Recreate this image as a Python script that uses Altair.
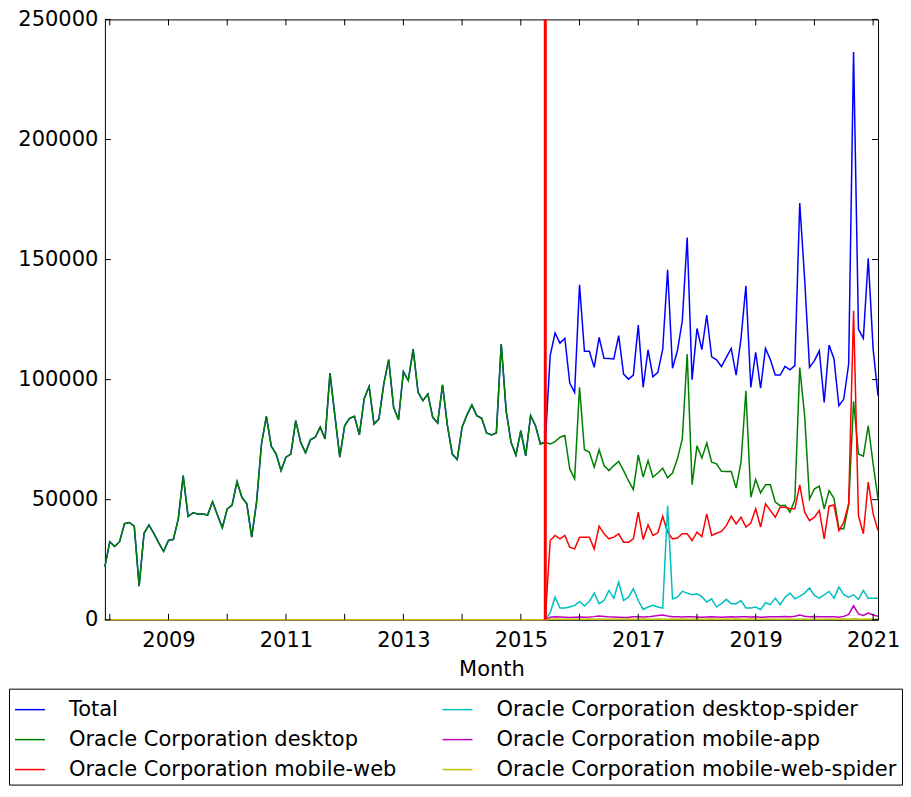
import altair as alt
import pandas as pd

start_month = "2007-12"
end_month = "2021-02"
split_month = "2015-06"

# Monthly values
desktop_before = [
    22000, 32500, 30500, 32500, 40000, 40500, 39000, 14000, 36000, 39500,
    36000, 32000, 28500, 33000, 33500, 42000, 60000, 43000, 44500, 44000,
    44000, 43600, 49200, 43600, 38300, 46200, 47800, 57500, 51000, 48300,
    34400, 49000, 73200, 84700, 72300, 69000, 62100, 67700, 69000, 82900,
    73900, 69500, 74900, 76000, 80200, 75300, 102700, 85000, 67700, 80800,
    83900, 84700, 77000, 92200, 97200, 81500, 83600, 98200, 108300, 88500,
    83300, 103300, 99600, 112700, 94700, 91200, 94000, 84300, 81900, 97800,
    80800, 69000, 66700, 80200, 85300, 89400, 85000, 83900, 77800, 77000,
    77800, 114800, 87100, 73900, 68600, 78700, 68300, 85000, 80800, 73200,
]
total_after = [
    74000, 110000, 119400, 115200, 117200, 98600, 94700, 139500, 111800, 111800,
    105100, 117600, 108900, 108800, 108600, 118300, 102300, 100200, 101900, 122700,
    96800, 112400, 101200, 103000, 112700, 145700, 104700, 112000, 124500, 159200,
    100000, 121300, 112500, 126900, 109500, 108200, 105400, 109300, 113000, 101900,
    117200, 139100, 96800, 111400, 96400, 113000, 108300, 101900, 101900, 105500,
    104100, 105800, 173500, 142000, 105100, 107900, 112000, 90500, 114400, 108600,
    89100, 91900, 106500, 236400, 121000, 117200, 150500, 112700, 93300,
]
desktop_after = [
    73900, 73200, 74200, 76000, 76700, 62800, 58700, 96800, 70800, 69800,
    63500, 70800, 64200, 62100, 64200, 65900, 62100, 57900, 54200, 68600,
    59400, 66300, 59400, 61100, 63100, 59100, 61100, 67000, 75300, 110600,
    56200, 72500, 67300, 73600, 65600, 64900, 61800, 61700, 61700, 54800,
    65600, 95300, 51000, 58400, 52800, 56200, 56200, 49000, 47500, 47700,
    44800, 50000, 105000, 85000, 50300, 54500, 55600, 46200, 53800, 50600,
    37900, 37900, 47800, 91000, 69000, 68100, 80800, 64900, 50300,
]
mobile_web_after = [
    0, 33000, 35100, 33700, 35100, 30200, 29500, 34400, 34400, 34400,
    29500, 39000, 35800, 33700, 34400, 35800, 32300, 32300, 33700, 44800,
    33400, 39500, 35100, 36200, 43100, 36500, 33700, 34000, 35800, 35800,
    33000, 36500, 34600, 44100, 35100, 36000, 36800, 39200, 43100, 39900,
    42700, 38600, 40300, 46200, 38600, 48300, 45500, 42700, 46900, 46900,
    46200, 46200, 56200, 44800, 41300, 42700, 45500, 33700, 47300, 47800,
    37100, 40600, 48300, 128700, 43400, 35800, 57300, 44100, 37100,
]
desktop_spider_after = [
    0, 3000, 9400, 4900, 4900, 5300, 6000, 7600, 5700, 7600,
    11100, 6700, 8000, 12200, 9000, 15700, 8000, 9400, 12900, 8000,
    4300, 5300, 6000, 5300, 4900, 47500, 8700, 9400, 11800, 11100,
    10400, 10800, 9600, 7400, 8700, 5300, 6700, 8500, 6700, 6700,
    8000, 4900, 4900, 5300, 4300, 7100, 6300, 9000, 6300, 9400,
    11100, 8700, 9700, 11100, 13200, 10100, 9000, 10400, 11800, 9000,
    13600, 10400, 9400, 10400, 8500, 12200, 9000, 9000, 9000,
]
mobile_app_after = [
    0, 1000, 1200, 1100, 1000, 900, 1000, 1100, 1000, 1100,
    1300, 1600, 1400, 1200, 1100, 1000, 900, 1000, 1200, 1300,
    1100, 1200, 1500, 1800, 2000, 1600, 1300, 1200, 1100, 1300,
    1200, 1100, 1000, 1100, 1200, 1100, 1000, 1100, 1200, 1100,
    1300, 1200, 1100, 1200, 1000, 1100, 1200, 1300, 1200, 1400,
    1300, 1500, 2000, 1500, 1300, 1400, 1300, 1200, 1300, 1200,
    1000, 1400, 2200, 5800, 2400, 1800, 2800, 2000, 1500,
]
mobile_web_spider_after = [
    0, 200, 300, 200, 250, 200, 300, 250, 200, 300,
    250, 300, 200, 250, 300, 200, 250, 300, 250, 200,
    300, 250, 200, 300, 250, 200, 300, 250, 300, 200,
    250, 300, 200, 250, 300, 250, 200, 300, 250, 300,
    200, 250, 300, 250, 200, 300, 250, 300, 200, 250,
    300, 250, 200, 300, 250, 300, 200, 250, 300, 250,
    200, 300, 250, 400, 300, 250, 300, 250, 200,
]
zeros_before = [0] * len(desktop_before)

series_names = [
    "Total",
    "Oracle Corporation desktop",
    "Oracle Corporation mobile-web",
    "Oracle Corporation desktop-spider",
    "Oracle Corporation mobile-app",
    "Oracle Corporation mobile-web-spider",
]
series_colors = ["#0000ff", "#008000", "#ff0000", "#00bfbf", "#bf00bf", "#bfbf00"]
series_values = {
    "Total": desktop_before + total_after,
    "Oracle Corporation desktop": desktop_before + desktop_after,
    "Oracle Corporation mobile-web": zeros_before + mobile_web_after,
    "Oracle Corporation desktop-spider": zeros_before + desktop_spider_after,
    "Oracle Corporation mobile-app": zeros_before + mobile_app_after,
    "Oracle Corporation mobile-web-spider": zeros_before + mobile_web_spider_after,
}

year_ticks = list(range(2008, 2022))
year_labels = [2009, 2011, 2013, 2015, 2017, 2019, 2021]
y_ticks = [0, 50000, 100000, 150000, 200000, 250000]

months = pd.period_range(start_month, end_month, freq="M")
xpos = [p.year + (p.month - 1) / 12 for p in months]
split_p = pd.Period(split_month, freq="M")
split_x = split_p.year + (split_p.month - 1) / 12

rows = []
for s in series_names:
    for xv, v in zip(xpos, series_values[s]):
        rows.append({"x": xv, "value": v, "series": s})
df = pd.DataFrame(rows)

W, H = 774, 601
FONT = "DejaVu Sans"

x_scale = alt.Scale(domain=[xpos[0], xpos[-1]], nice=False, zero=False)
y_scale = alt.Scale(domain=[0, 250000], nice=False)

x_enc = alt.X("x:Q", scale=x_scale,
              axis=alt.Axis(values=year_labels, format="d", title="Month",
                            labelPadding=10, titlePadding=8, labelFlush=False))
y_enc = alt.Y("value:Q", scale=y_scale,
              axis=alt.Axis(values=y_ticks, format="d", title=None,
                            labelPadding=7, minExtent=96, maxExtent=96))
color_enc = alt.Color(
    "series:N",
    scale=alt.Scale(domain=series_names, range=series_colors),
    legend=alt.Legend(
        title=None, orient="none", legendX=-96, legendY=670, columns=2,
        direction="vertical",
        symbolType="stroke", symbolSize=900, symbolStrokeWidth=1.5,
        labelFontSize=21, labelFont=FONT, labelColor="black", labelLimit=1000,
        strokeColor="black", fillColor="white", padding=5,
        columnPadding=43, rowPadding=4, labelOffset=23,
    ),
)

base = alt.Chart(df)
layers = []
for s in series_names:
    layers.append(
        base.transform_filter(alt.datum.series == s)
        .mark_line(strokeWidth=1.5)
        .encode(x=x_enc, y=y_enc, color=color_enc)
    )

xt = pd.DataFrame({"x": year_ticks})
yt = pd.DataFrame({"value": y_ticks})
tick_len = 6
tick_bottom = alt.Chart(xt).mark_rule(color="black").encode(
    x=x_enc, y=alt.value(H), y2=alt.value(H - tick_len))
tick_top = alt.Chart(xt).mark_rule(color="black").encode(
    x=x_enc, y=alt.value(0), y2=alt.value(tick_len))
tick_left = alt.Chart(yt).mark_rule(color="black").encode(
    y=y_enc, x=alt.value(0), x2=alt.value(tick_len))
tick_right = alt.Chart(yt).mark_rule(color="black").encode(
    y=y_enc, x=alt.value(W), x2=alt.value(W - tick_len))

split_rule = alt.Chart(pd.DataFrame({"x": [split_x]})).mark_rule(
    color="#ff0000", strokeWidth=3).encode(x=x_enc)

chart = alt.layer(
    *layers, tick_bottom, tick_top, tick_left, tick_right, split_rule
).properties(
    width=W, height=H,
    padding={"left": 0, "top": 0, "right": 0, "bottom": 0},
).configure(font=FONT).configure_view(
    stroke="black", strokeWidth=1
).configure_axis(
    domain=False, ticks=False, grid=False,
    labelFont=FONT, labelFontSize=21, labelColor="black",
    titleFont=FONT, titleFontSize=21, titleFontWeight="normal", titleColor="black",
)

chart.save("out.html", embed_options={"renderer": "svg", "actions": False})
